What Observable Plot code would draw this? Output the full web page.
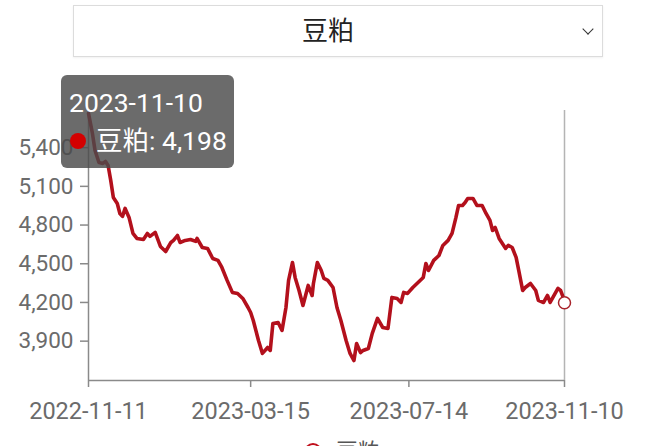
<!DOCTYPE html>
<html>
<head>
<meta charset="utf-8">
<script src="https://cdn.jsdelivr.net/npm/d3@7"></script>
<script src="https://cdn.jsdelivr.net/npm/@observablehq/plot@0.6"></script>
<style>
  html, body { margin: 0; padding: 0; background: #fff; }
  body { width: 666px; height: 446px; overflow: hidden; position: relative;
         font-family: Roboto, "Noto Sans CJK SC", "Noto Sans", sans-serif; }
  #select { position: absolute; left: 73px; top: 5px; width: 528px; height: 50px;
            border: 1px solid #dcdcdc; box-shadow: 0 1px 2px rgba(0,0,0,0.06);
            background: #fff; }
  #select .label { position: absolute; left: 0; right: 20px; top: 0; height: 50px; line-height: 50px;
            text-align: center; font-size: 26px; color: #222; }
  #select .chev { position: absolute; left: 510px; top: 19px; width: 7px; height: 7px;
            border-right: 1.6px solid #333; border-bottom: 1.6px solid #333; transform: rotate(45deg); }
  #chart { position: absolute; left: 0; top: 60px; }
  #tip { position: absolute; left: 61px; top: 75px; width: 173px; height: 93px; border-radius: 6px;
         background: rgba(74,74,74,0.82); color: #fff; font-size: 26.5px; }
  #tip .d { position: absolute; left: 8px; top: 12px; line-height: 32px; }
  #tip .dot { position: absolute; left: 9px; top: 58px; width: 16px; height: 16px; border-radius: 50%; background: #d40000; }
  #tip .v { position: absolute; left: 35px; top: 49px; line-height: 34px; }
  #legend { position: absolute; left: 0; right: 0; top: 440px; height: 24px; }
  #legend .ic { position: absolute; left: 304px; top: 3px; width: 14px; height: 14px; border-radius: 50%;
                border: 2px solid #c0101c; background: #fff; }
  #legend .t { position: absolute; left: 336px; top: -2px; font-size: 22px; color: #555; line-height: 28px; }
</style>
</head>
<body>
<div id="select"><div class="label"></div><div class="chev"></div></div>
<div id="chart"></div>
<div id="tip"><div class="d"></div><div class="dot"></div><div class="v"></div></div>
<div id="legend"><div class="ic"></div><div class="t"></div></div>
<script>
const seriesName = "豆粕";
const dates = [
"2022-11-11","2022-11-14","2022-11-16","2022-11-19","2022-11-22","2022-11-24","2022-11-26","2022-11-28","2022-11-30",
"2022-12-03","2022-12-05","2022-12-07","2022-12-09","2022-12-12","2022-12-15","2022-12-18","2022-12-23","2022-12-26","2022-12-28",
"2023-01-01","2023-01-05","2023-01-09","2023-01-13","2023-01-15","2023-01-18","2023-01-20","2023-01-24","2023-01-28",
"2023-02-01","2023-02-02","2023-02-06","2023-02-10","2023-02-14","2023-02-18","2023-02-21","2023-02-25",
"2023-03-01","2023-03-05","2023-03-09","2023-03-13","2023-03-15","2023-03-17","2023-03-21","2023-03-24","2023-03-28","2023-03-30",
"2023-04-01","2023-04-05","2023-04-08","2023-04-11","2023-04-13","2023-04-16","2023-04-18","2023-04-21","2023-04-24","2023-04-26","2023-04-28",
"2023-05-01","2023-05-02","2023-05-05","2023-05-08","2023-05-10","2023-05-13","2023-05-17","2023-05-20","2023-05-23","2023-05-27","2023-05-30",
"2023-06-02","2023-06-04","2023-06-07","2023-06-09","2023-06-13","2023-06-16","2023-06-20","2023-06-24","2023-06-28",
"2023-07-01","2023-07-05","2023-07-08","2023-07-10","2023-07-13","2023-07-17","2023-07-21","2023-07-25","2023-07-27","2023-07-29",
"2023-08-02","2023-08-06","2023-08-09","2023-08-13","2023-08-16","2023-08-19","2023-08-21","2023-08-24","2023-08-26","2023-08-28",
"2023-09-01","2023-09-04","2023-09-08","2023-09-11","2023-09-14","2023-09-16","2023-09-18","2023-09-21","2023-09-26","2023-09-28",
"2023-10-01","2023-10-04","2023-10-06","2023-10-09","2023-10-11","2023-10-15","2023-10-19","2023-10-21","2023-10-25","2023-10-28","2023-10-30",
"2023-11-02","2023-11-05","2023-11-07","2023-11-09","2023-11-10"
];
const prices = [
5665,5510,5378,5285,5278,5293,5262,5146,5014,
4967,4890,4867,4929,4859,4735,4696,4688,4735,4712,
4743,4634,4595,4665,4681,4719,4665,4681,4688,
4673,4696,4626,4619,4541,4526,4471,4371,
4278,4270,4231,4161,4122,4060,3905,3805,3851,3828,
4037,4045,3983,4161,4371,4510,4394,4293,4177,4254,4332,
4254,4347,4510,4448,4386,4371,4316,4161,4060,3905,3805,
3750,3882,3812,3828,3843,3960,4076,4006,3998,
4239,4231,4200,4278,4270,4316,4355,4394,4502,4448,
4526,4564,4642,4681,4735,4859,4952,4952,4975,5006,
5006,4952,4952,4890,4836,4758,4781,4696,4619,4642,
4626,4549,4448,4293,4316,4347,4293,4216,4200,4254,4200,
4254,4309,4293,4239,4198
];
const xTicks = ["2022-11-11","2023-03-15","2023-07-14","2023-11-10"];
const yTicks = [3900,4200,4500,4800,5100,5400];
const yDomain = [3595, 5688];

const data = dates.map((d, i) => ({date: new Date(d), price: prices[i]}));
const first = data[0], last = data[data.length - 1];
const fmtDate = d3.utcFormat("%Y-%m-%d");
const fmtNum = d3.format(",");

const chart = Plot.plot({
  width: 666, height: 385,
  marginLeft: 88, marginRight: 102, marginTop: 50, marginBottom: 65,
  style: {fontFamily: 'Roboto, "Noto Sans CJK SC", sans-serif', fontSize: "22.5px", color: "#6b6b6b", background: "transparent", overflow: "visible"},
  x: {type: "utc", domain: d3.extent(data, d => d.date)},
  y: {domain: yDomain},
  marks: [
    Plot.ruleX([last.date], {stroke: "#b4b4b4", strokeWidth: 1.5}),
    Plot.ruleX([first.date], {stroke: "#8a8a8a", strokeWidth: 1.5}),
    Plot.ruleY([yDomain[0]], {stroke: "#8a8a8a", strokeWidth: 1.5}),
    Plot.axisX({ticks: xTicks.map(d => new Date(d)), tickFormat: fmtDate, tickSize: 7, tickPadding: 15, label: null, stroke: "#8a8a8a", strokeWidth: 1.5, fontSize: 23.5}),
    Plot.axisY({ticks: yTicks, tickFormat: fmtNum, tickSize: 8, tickPadding: 7, label: null, stroke: "#8a8a8a", strokeWidth: 1.5}),
    Plot.line(data, {x: "date", y: "price", stroke: "#b3101c", strokeWidth: 3.6, strokeLinejoin: "round"}),
    Plot.dot([last], {x: "date", y: "price", r: 6, stroke: "#a8232b", fill: "#fff", strokeWidth: 1.5})
  ]
});
document.getElementById("chart").appendChild(chart);

document.querySelector("#select .label").textContent = seriesName;
document.querySelector("#tip .d").textContent = fmtDate(last.date);
document.querySelector("#tip .v").textContent = seriesName + ": " + fmtNum(last.price);
document.querySelector("#legend .t").textContent = seriesName;
</script>
</body>
</html>
